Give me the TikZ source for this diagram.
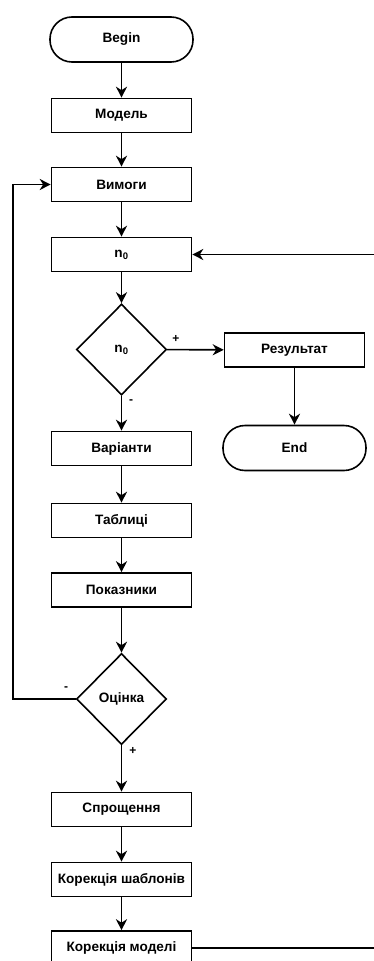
\documentclass[tikz,border=0pt]{standalone}
\usepackage{fontspec}
\setmainfont{Liberation Sans}
\usetikzlibrary{shapes.geometric,arrows.meta}

\begin{document}
\begin{tikzpicture}[x=1pt,y=-1pt,line width=1.6pt,
  font=\fontsize{13.6}{15}\selectfont\bfseries,
  >={Stealth[length=11pt,width=11pt,inset=3.5pt]},
  blk/.style={draw,rectangle,minimum width=140pt,minimum height=34pt,inner sep=0pt},
  term/.style={draw,rectangle,rounded corners=22pt,minimum width=143pt,minimum height=45pt,inner sep=0pt},
  dec/.style={draw,diamond,minimum width=90pt,minimum height=91pt,inner sep=0pt},
  sgn/.style={font=\fontsize{12}{13}\selectfont\bfseries,inner sep=0pt}]
\useasboundingbox (0,0) rectangle (374,961);
\clip (0,0) rectangle (374,961);
\node[term](begin)at(121.5,39.5){Begin};
\node[blk](model)at(121.5,115.5){Модель};
\node[blk](vymogy)at(121.5,184.5){Вимоги};
\node[blk](nbox)at(121.5,254.5){n\textsubscript{0}};
\node[dec](ndec)at(121.5,349.5){n\textsubscript{0}};
\node[blk](result)at(294.5,350){Результат};
\node[term](end)at(294.5,448){End};
\node[blk](variants)at(121.5,448.5){Варіанти};
\node[blk](tables)at(121.5,520.5){Таблиці};
\node[blk](indic)at(121.5,590){Показники};
\node[dec](assess)at(121.5,699){Оцінка};
\node[blk](simpl)at(121.5,809.5){Спрощення};
\node[blk](tcorr)at(121.5,879.5){Корекція шаблонів};
\node[blk](mcorr)at(121.5,948){Корекція моделі};
\coordinate(lft)at(13,699);
\coordinate(rgt)at(390,948);
\draw[->](begin)--(model);\draw[->](model)--(vymogy);\draw[->](vymogy)--(nbox);
\draw[->](nbox)--(ndec);\draw[->](ndec)--(variants);
\draw[->](ndec)--(result);\draw[->](result)--(end);
\draw[->](variants)--(tables);\draw[->](tables)--(indic);\draw[->](indic)--(assess);
\draw[->](assess)--(simpl);\draw[->](simpl)--(tcorr);\draw[->](tcorr)--(mcorr);
\draw[->](assess.west)--(lft)|-(vymogy.west);
\draw[->](mcorr.east)--(rgt)|-(nbox.east);
\node[sgn](p1)at(176,339){+};
\node[sgn](m1)at(131,402){-};
\node[sgn](m2)at(66,689){-};
\node[sgn](p2)at(133,751){+};
\end{tikzpicture}
\end{document}
